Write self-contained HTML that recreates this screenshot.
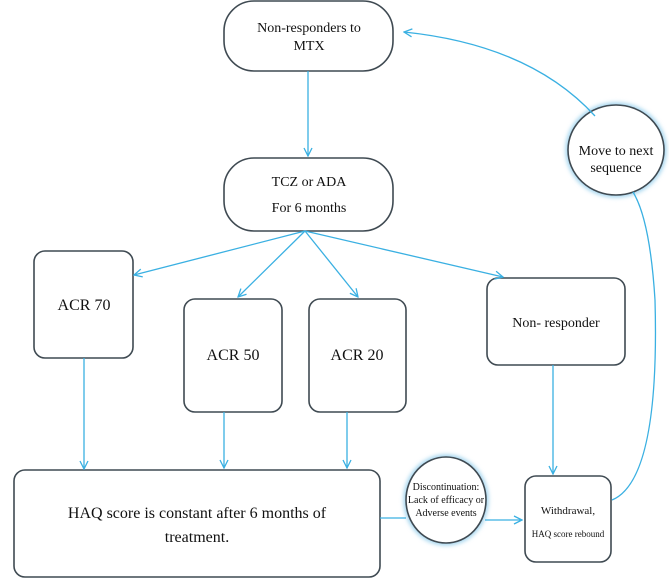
<!DOCTYPE html><html><head><style>body{margin:0;background:#fff}svg{display:block}text{font-family:"Liberation Serif",serif;fill:#111}</style></head><body>
<svg width="669" height="585" viewBox="0 0 669 585" xmlns="http://www.w3.org/2000/svg">
<defs><marker id="a" markerWidth="10" markerHeight="10" refX="9" refY="5" orient="auto" markerUnits="userSpaceOnUse"><path d="M1,1 L9,5 L1,9" fill="none" stroke="#3ab0e2" stroke-width="1.3"/></marker>
<filter id="g"><feGaussianBlur stdDeviation="2"/></filter></defs>
<g fill="#fff" stroke="#3f4a52" stroke-width="1.6">
<rect x="224" y="1" width="169" height="70" rx="30"/>
<rect x="224" y="158" width="169" height="73" rx="30"/>
<rect x="34" y="251" width="99" height="107" rx="11"/>
<rect x="184" y="299" width="98" height="113" rx="11"/>
<rect x="309" y="299" width="97" height="113" rx="11"/>
<rect x="487" y="278" width="138" height="87" rx="11"/>
<rect x="14" y="470" width="366" height="107" rx="11"/>
<rect x="525" y="476" width="86" height="86" rx="11"/>
</g>
<g fill="none" stroke="#9fd3ee" stroke-width="5" filter="url(#g)"><ellipse cx="616" cy="150" rx="48" ry="45"/><ellipse cx="446" cy="500" rx="40" ry="43"/></g>
<g fill="#fff" stroke="#3f4a52" stroke-width="1.6"><ellipse cx="616" cy="150" rx="48" ry="45"/><ellipse cx="446" cy="500" rx="40" ry="43"/></g>
<g stroke="#3ab0e2" stroke-width="1.3" fill="none" marker-end="url(#a)">
<line x1="308" y1="71" x2="308" y2="156"/>
<line x1="305" y1="231" x2="134" y2="275"/>
<line x1="305" y1="231" x2="238" y2="297"/>
<line x1="305" y1="231" x2="358" y2="297"/>
<line x1="305" y1="231" x2="503" y2="277"/>
<line x1="84" y1="358" x2="84" y2="469"/>
<line x1="224" y1="412" x2="224" y2="468"/>
<line x1="347" y1="412" x2="347" y2="468"/>
<line x1="553" y1="365" x2="553" y2="474"/>
<line x1="485" y1="520" x2="522" y2="520"/>
<path d="M595 116 Q530 45 404 32"/>
</g>
<g stroke="#3ab0e2" stroke-width="1.3" fill="none">
<line x1="380" y1="518" x2="406" y2="518"/>
<path d="M612 500 Q660 480 655 300 Q650 220 633 192"/>
</g>
<g font-size="14" text-anchor="middle">
<text x="309" y="32">Non-responders to</text><text x="309" y="50">MTX</text>
<text x="309" y="186">TCZ or ADA</text><text x="309" y="212">For 6 months</text>
<text x="616" y="155">Move to next</text><text x="616" y="172">sequence</text>
<text x="84" y="310" font-size="16">ACR 70</text>
<text x="233" y="360" font-size="16">ACR 50</text>
<text x="357" y="360" font-size="16">ACR 20</text>
<text x="556" y="327">Non- responder</text>
<text x="197" y="518" font-size="16">HAQ score is constant after 6 months of</text>
<text x="197" y="542" font-size="16">treatment.</text>
<text x="446" y="490" font-size="10">Discontinuation:</text><text x="446" y="503" font-size="10">Lack of efficacy  or</text><text x="446" y="516" font-size="10">Adverse events</text>
<text x="568" y="514" font-size="11">Withdrawal,</text><text x="568" y="537" font-size="9">HAQ score rebound</text>
</g>
</svg></body></html>
